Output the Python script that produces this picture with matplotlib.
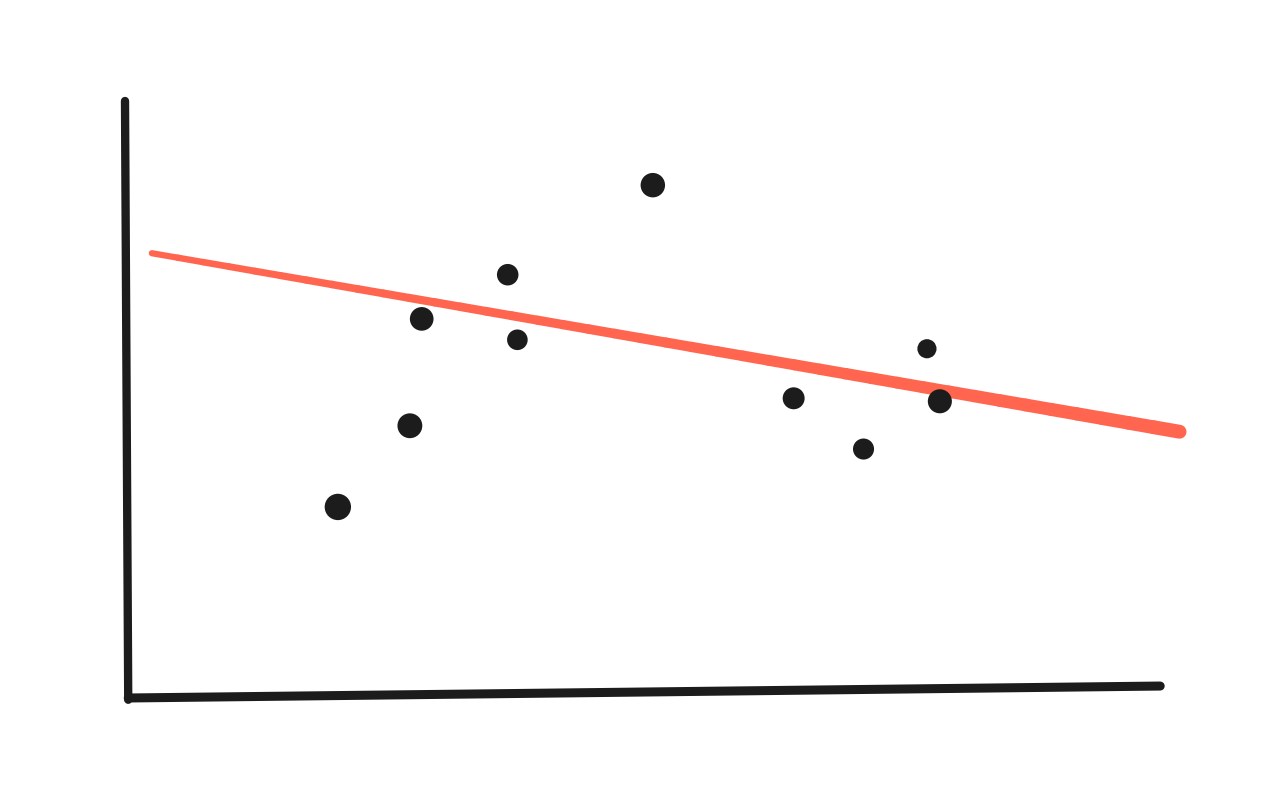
import matplotlib.pyplot as plt
import numpy as np
from matplotlib.collections import LineCollection

# Scatter points (data units, x 0..10, y 0..10)
xs = [1.98, 2.65, 2.76, 3.56, 3.65, 4.91, 6.22, 6.87, 7.46, 7.58]
ys = [3.15, 4.51, 6.30, 7.04, 5.95, 8.54, 4.97, 4.12, 5.80, 4.92]
dot_sizes = [360, 320, 290, 240, 220, 310, 250, 230, 190, 300]

# Hand-drawn trend line endpoints
line_x = [0.25, 9.81]
line_y = [7.40, 4.41]

# Hand-drawn axis strokes
yaxis_x = [0.0, 0.03]
yaxis_y = [9.95, -0.08]
xaxis_x = [0.03, 9.63]
xaxis_y = [-0.05, 0.15]

fig = plt.figure(figsize=(12.8, 7.86), dpi=100)
ax = fig.add_axes([125 / 1280, 1 - 695 / 786, 1075 / 1280, 597 / 786])
ax.set_xlim(0, 10)
ax.set_ylim(0, 10)
ax.axis("off")

ink = "#1c1c1c"
ax.plot(yaxis_x, yaxis_y, color=ink, lw=6.0, solid_capstyle="round", clip_on=False)
ax.plot(xaxis_x, xaxis_y, color=ink, lw=6.5, solid_capstyle="round", clip_on=False)

# trend line gets thicker toward the right, like a marker stroke
n = 40
tx = np.linspace(line_x[0], line_x[1], n + 1)
ty = np.linspace(line_y[0], line_y[1], n + 1)
segs = [[(tx[i], ty[i]), (tx[i + 1], ty[i + 1])] for i in range(n)]
widths = np.linspace(4.5, 10.0, n)
lc = LineCollection(segs, linewidths=widths, colors="#ff654f", capstyle="round", clip_on=False)
ax.add_collection(lc)

ax.scatter(xs, ys, s=dot_sizes, color=ink, zorder=3, clip_on=False, edgecolors="none")

fig.savefig("out.png", dpi=100, facecolor="white")
